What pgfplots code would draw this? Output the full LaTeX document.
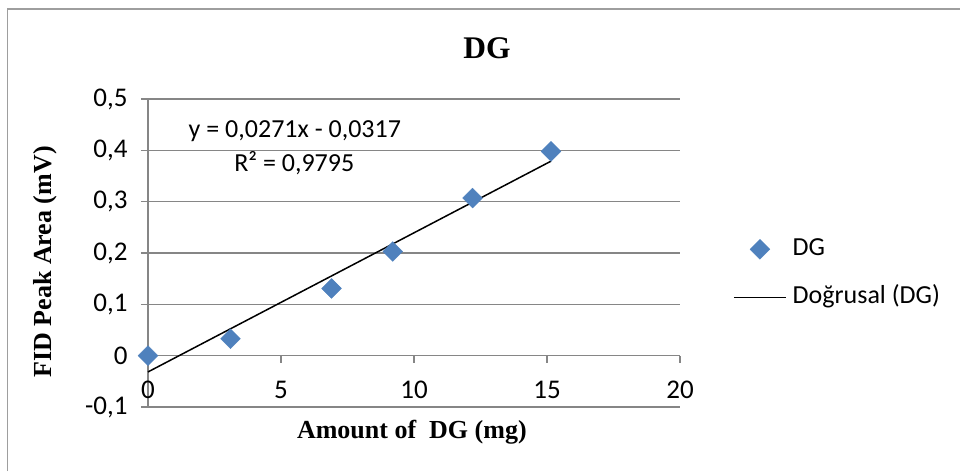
\documentclass[border=0pt]{standalone}
\usepackage{fontspec}
\setmainfont{Liberation Serif}
\newfontfamily\calibri{Carlito}
\usepackage{pgfplots}
\pgfplotsset{compat=1.18}
\definecolor{mk}{HTML}{4F81BD}
\definecolor{gr}{HTML}{868686}
\pgfplotsset{
  mklegend/.style={legend image code/.code={\draw[mark repeat=2,mark phase=2,##1] plot coordinates {(0pt,0pt) (26pt,0pt) (52pt,0pt)};}},
  lnlegend/.style={legend image code/.code={\draw[##1] (0pt,0pt) -- (52pt,0pt);}},
}
\begin{document}
\begin{tikzpicture}
\useasboundingbox (0,0) rectangle (960pt,471pt);
\draw[gr!80, line width=1.5pt] (7.5pt,0) -- (7.5pt,462pt) -- (960pt,462pt);
\begin{axis}[
  at={(148pt,64pt)}, anchor=south west,
  scale only axis, width=532pt, height=308pt,
  xmin=0, xmax=20, ymin=-0.1, ymax=0.5,
  xtick={0,5,10,15,20}, ytick={-0.1,0,0.1,0.2,0.3,0.4,0.5},
  axis x line=middle, axis y line=left,
  hide obscured x ticks=false, hide obscured y ticks=false,
  axis line style={gr, line width=1.5pt, -},
  ymajorgrids, grid style={gr, line width=1.5pt},
  tick style={gr, line width=1.5pt},
  tick align=outside, major tick length=7pt,
  clip=false,
  /pgf/number format/assume math mode=true,
  /pgf/number format/use comma,
  /pgf/number format/fixed,
  /pgf/number format/precision=1,
  ticklabel style={font=\calibri\fontsize{27}{32}\selectfont},
  yticklabel style={xshift=-10pt},
  xticklabel style={yshift=-15pt},
  title={DG},
  title style={at={(axis description cs:0.637,1.146)}, anchor=center, font=\bfseries\fontsize{31.5}{36}\selectfont},
  xlabel={Amount of~ DG (mg)},
  xlabel style={at={(axis description cs:0.496,-0.081)}, anchor=center, font=\bfseries\fontsize{26}{30}\selectfont},
  ylabel={FID Peak Area (mV)},
  ylabel style={at={(axis description cs:-0.194,0.471)}, anchor=center, font=\bfseries\fontsize{26}{30}\selectfont},
  legend style={draw=none, fill=none, at={(1.0996,0.434)}, anchor=west, inner sep=0pt,
    row sep=24pt, column sep=6pt, font=\calibri\fontsize{26}{31}\selectfont,
    nodes={text height=18pt, text depth=6pt, inner sep=0pt}},
  legend cell align=left,
]
\addplot[only marks, mark=square*, mark size=7pt, mark options={rotate=45, fill=mk, draw=mk}, mklegend]
  coordinates {(0,0) (3.1,0.033) (6.9,0.131) (9.2,0.203) (12.2,0.307) (15.15,0.398)};
\addlegendentry{DG}
\addplot[black, line width=1.5pt, lnlegend]
  coordinates {(0,-0.0317) (15.15,0.3789)};
\addlegendentry{Doğrusal (DG)}
\node[font=\calibri\fontsize{26}{31}\selectfont] at (axis description cs:0.276,0.896) {y = 0,0271x - 0,0317};
\node[font=\calibri\fontsize{26}{31}\selectfont] at (axis description cs:0.275,0.792) {R² = 0,9795};
\end{axis}
\end{tikzpicture}
\end{document}
